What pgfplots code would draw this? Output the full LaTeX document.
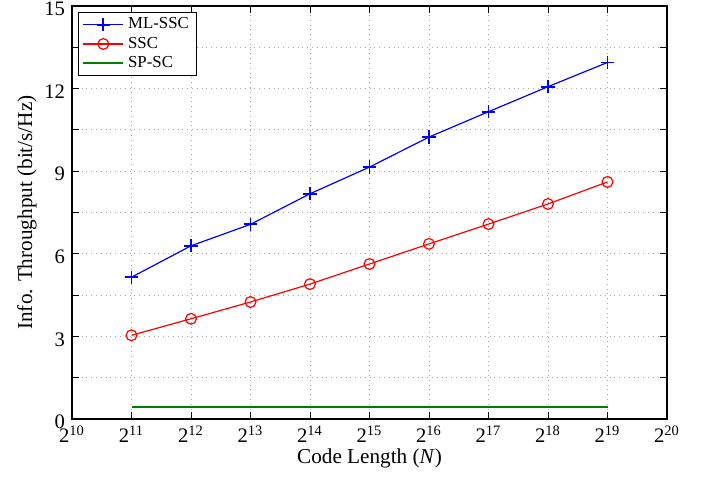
\documentclass[border=0pt]{standalone}
\usepackage{fontspec}
\setmainfont{Liberation Serif}
\usepackage{pgfplots}
\pgfplotsset{compat=1.18}
\begin{document}
\begin{tikzpicture}
\path[use as bounding box] (-36pt,-29.5pt) rectangle (318pt,209.5pt);
\begin{axis}[
  scale only axis, width=297.5pt, height=206.5pt,
  at={(0,0)}, anchor=south west,
  xmin=10, xmax=20, ymin=0, ymax=15,
  xtick={10,...,20},
  xticklabel={2\textsuperscript{\pgfmathprintnumber{\tick}}},
  ytick={0,3,...,15},
  minor ytick={1.5,4.5,...,13.5},
  /pgf/number format/assume math mode=true,
  tick label style={font=\rmfamily\fontsize{10.3}{12}\selectfont},
  yticklabel style={yshift=-1.5pt},
  label style={font=\rmfamily\fontsize{10.6}{12}\selectfont},
  xlabel={Code Length (\textit{N})},
  ylabel={Info. Throughput (bit/s/Hz)},
  xlabel style={yshift=4pt},
  ylabel style={yshift=-3pt},
  tick align=inside, tick pos=both,
  major tick length=3.5pt, minor tick length=3.5pt,
  every tick/.style={black, line width=0.5pt},
  grid=both,
  major grid style={gray!70, dotted, line width=0.5pt},
  minor grid style={gray!70, dotted, line width=0.5pt},
  axis line style={line width=0.9pt},
  legend style={at={(0.01,0.985)}, anchor=north west, draw=black, line width=0.6pt,
    font=\rmfamily\fontsize{8.4}{9.5}\selectfont, inner ysep=0.5pt, inner xsep=2pt, row sep=-1.5pt},
  legend cell align=left,
  legend image code/.code={\draw[#1] (0pt,0pt) -- (20pt,0pt); \draw[#1, only marks] plot coordinates {(10pt,0pt)};},
]
\addplot[blue, line width=0.6pt, mark=+, mark size=3.3pt, mark options={line width=0.9pt}] coordinates {
(11,5.15) (12,6.29) (13,7.07) (14,8.18) (15,9.15) (16,10.24) (17,11.16) (18,12.07) (19,12.95)};
\addlegendentry{ML-SSC}
\addplot[red, line width=0.6pt, mark=o, mark size=2.7pt, mark options={line width=0.6pt}] coordinates {
(11,3.04) (12,3.64) (13,4.25) (14,4.90) (15,5.63) (16,6.36) (17,7.08) (18,7.81) (19,8.61)};
\addlegendentry{SSC}
\addplot[green!50!black, line width=0.8pt, mark=none] coordinates {
(11,0.43) (12,0.43) (13,0.43) (14,0.43) (15,0.43) (16,0.43) (17,0.43) (18,0.43) (19,0.43)};
\addlegendentry{SP-SC}
\end{axis}
\end{tikzpicture}
\end{document}
